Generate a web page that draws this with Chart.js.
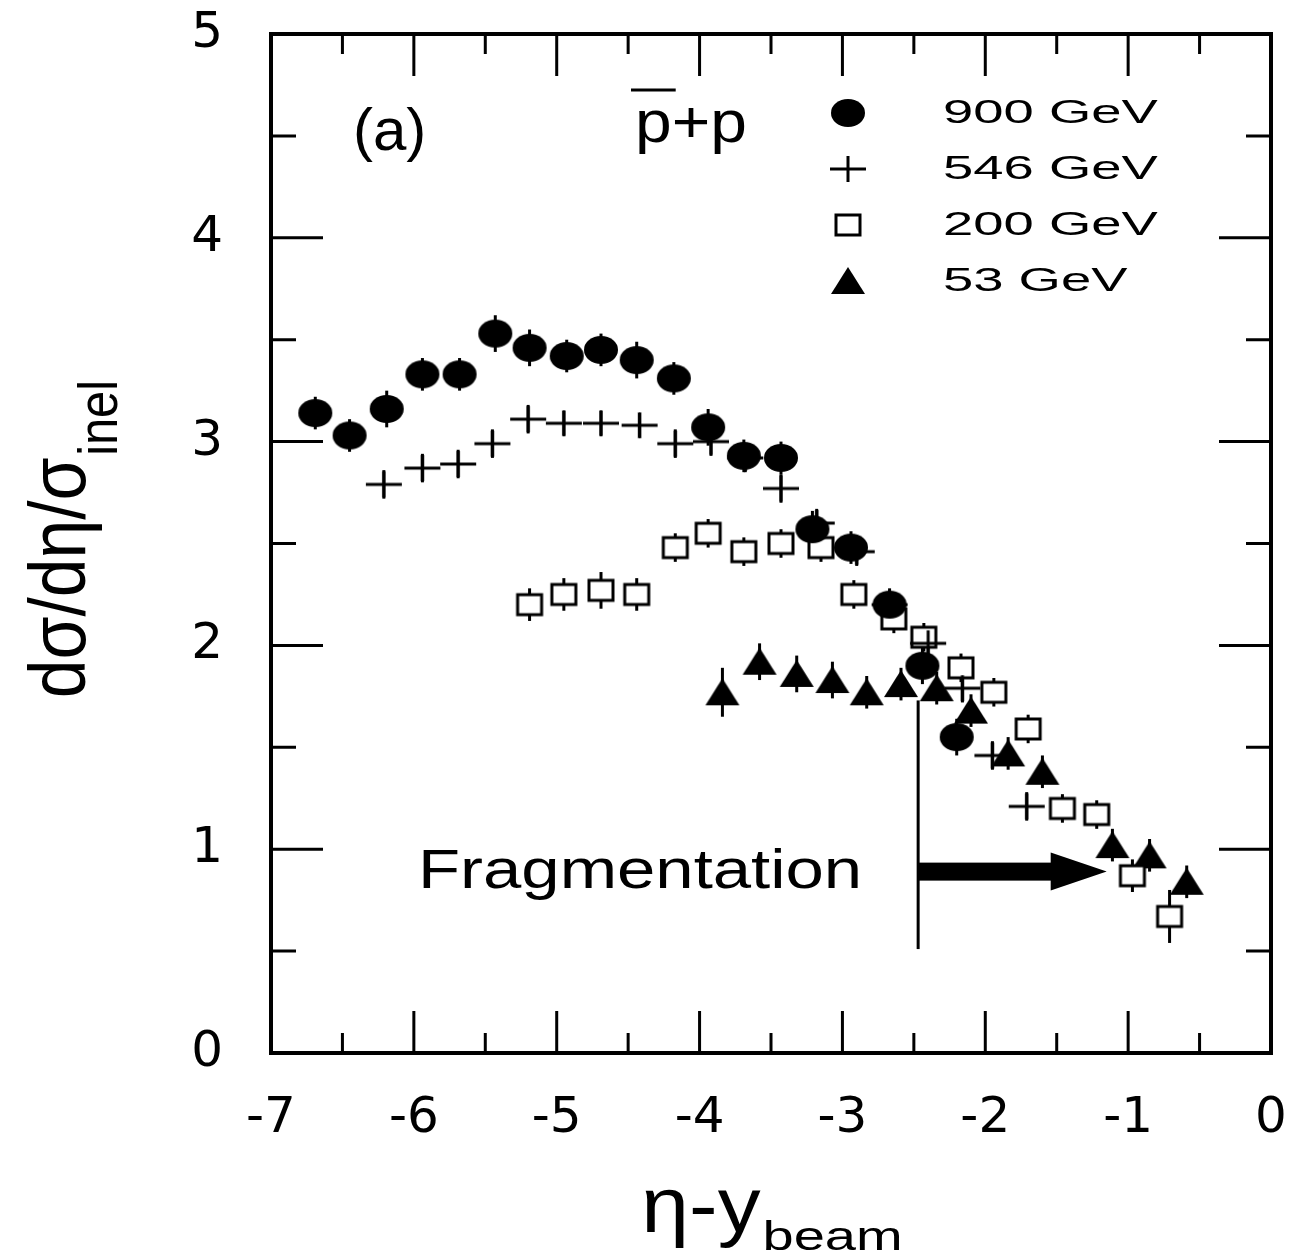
<!DOCTYPE html>
<html>
<head>
<meta charset="utf-8">
<script src="https://cdn.jsdelivr.net/npm/chart.js@4.4.1/dist/chart.umd.min.js"></script>
<style>body{margin:0;background:#fff}</style>
</head>
<body>
<canvas id="chart" width="1296" height="1256"></canvas>
<script>
// Series: eta - y_beam vs dsigma/deta/sigma_inel
const eta900 = [-6.69, -6.45, -6.19, -5.94, -5.68, -5.43, -5.19, -4.93, -4.69, -4.44, -4.18, -3.94, -3.69, -3.43, -3.21, -2.94, -2.67, -2.44, -2.20];
const val900 = [3.14, 3.03, 3.16, 3.33, 3.33, 3.53, 3.46, 3.42, 3.45, 3.40, 3.31, 3.07, 2.93, 2.92, 2.57, 2.48, 2.20, 1.90, 1.55];
const err900 = [0.08, 0.08, 0.09, 0.08, 0.08, 0.09, 0.09, 0.08, 0.08, 0.09, 0.08, 0.09, 0.08, 0.08, 0.09, 0.08, 0.08, 0.09, 0.09];

const eta546 = [-6.21, -5.94, -5.69, -5.45, -5.20, -4.95, -4.69, -4.42, -4.17, -3.92, -3.68, -3.43, -3.18, -2.90, -2.67, -2.40, -2.16, -1.95, -1.71];
const val546 = [2.79, 2.87, 2.89, 2.99, 3.11, 3.09, 3.09, 3.08, 2.99, 3.00, 2.92, 2.77, 2.60, 2.46, 2.20, 2.01, 1.79, 1.46, 1.21];
const err546 = [0.07, 0.07, 0.07, 0.07, 0.07, 0.06, 0.06, 0.06, 0.07, 0.07, 0.07, 0.07, 0.07, 0.07, 0.07, 0.07, 0.07, 0.07, 0.07];

const eta200 = [-5.19, -4.95, -4.69, -4.44, -4.17, -3.94, -3.69, -3.43, -3.15, -2.92, -2.64, -2.43, -2.17, -1.94, -1.70, -1.46, -1.22, -0.97, -0.71];
const val200 = [2.20, 2.25, 2.27, 2.25, 2.48, 2.55, 2.46, 2.50, 2.48, 2.25, 2.13, 2.04, 1.89, 1.77, 1.59, 1.20, 1.17, 0.87, 0.67];
const err200 = [0.08, 0.08, 0.09, 0.08, 0.07, 0.07, 0.07, 0.07, 0.07, 0.07, 0.07, 0.07, 0.07, 0.07, 0.07, 0.07, 0.07, 0.08, 0.13];

const eta53 = [-3.84, -3.58, -3.32, -3.07, -2.83, -2.59, -2.34, -2.10, -1.84, -1.60, -1.11, -0.85, -0.59];
const val53 = [1.77, 1.92, 1.86, 1.83, 1.77, 1.81, 1.79, 1.68, 1.47, 1.38, 1.02, 0.97, 0.84];
const err53 = [0.12, 0.09, 0.09, 0.09, 0.08, 0.08, 0.08, 0.08, 0.08, 0.08, 0.08, 0.08, 0.08];

const seriesLabels = ['900 GeV', '546 GeV', '200 GeV', '53 GeV'];
const xTickLabels = ['-7', '-6', '-5', '-4', '-3', '-2', '-1', '0'];
const yTickLabels = ['0', '1', '2', '3', '4', '5'];

// Fragmentation marker (data coordinates)
const fragX = -2.47;
const fragLine = [0.51, 1.73];
const fragArrowY = 0.89;
const fragArrowTip = -1.15;

const FONT = '"Liberation Sans", Arial, sans-serif';

// Marker glyphs, a bit wider than tall like the original.
function makeMarker(kind) {
  const c = document.createElement('canvas');
  c.width = 40; c.height = 34;
  const g = c.getContext('2d');
  g.translate(20, 17);
  g.fillStyle = '#000';
  g.strokeStyle = '#000';
  if (kind === 'circle') {
    g.beginPath(); g.ellipse(0, 0, 17, 14, 0, 0, Math.PI * 2); g.fill();
  } else if (kind === 'cross') {
    g.lineWidth = 3;
    g.beginPath(); g.moveTo(-18, 0); g.lineTo(18, 0); g.moveTo(0, -13); g.lineTo(0, 13); g.stroke();
  } else if (kind === 'square') {
    g.fillStyle = '#fff';
    g.fillRect(-12, -10, 24, 20);
    g.lineWidth = 3;
    g.strokeRect(-12, -10, 24, 20);
  } else if (kind === 'triangle') {
    g.beginPath(); g.moveTo(0, -14); g.lineTo(17, 13); g.lineTo(-17, 13); g.closePath(); g.fill();
  }
  return c;
}
const markers = [makeMarker('circle'), makeMarker('cross'), makeMarker('square'), makeMarker('triangle')];

const toPoints = (xs, ys) => xs.map((x, i) => ({x, y: ys[i]}));
const errs = [err900, err546, err200, err53];

const datasets = [
  {label: seriesLabels[0], data: toPoints(eta900, val900)},
  {label: seriesLabels[1], data: toPoints(eta546, val546)},
  {label: seriesLabels[2], data: toPoints(eta200, val200)},
  {label: seriesLabels[3], data: toPoints(eta53, val53)},
].map((d, i) => Object.assign(d, {pointStyle: markers[i], pointRadius: 17, showLine: false, errors: errs[i]}));

function stretchText(ctx, text, x, y, size, sx) {
  ctx.save();
  ctx.translate(x, y);
  ctx.scale(sx, 1);
  ctx.font = size + 'px ' + FONT;
  ctx.fillText(text, 0, 0);
  ctx.restore();
}

const errorBars = {
  id: 'errorBars',
  beforeDatasetsDraw(chart) {
    const {ctx, scales: {x, y}} = chart;
    ctx.save();
    ctx.strokeStyle = '#000';
    ctx.lineWidth = 3;
    chart.data.datasets.forEach(ds => {
      ds.data.forEach((p, i) => {
        const px = x.getPixelForValue(p.x);
        ctx.beginPath();
        ctx.moveTo(px, y.getPixelForValue(p.y - ds.errors[i]));
        ctx.lineTo(px, y.getPixelForValue(p.y + ds.errors[i]));
        ctx.stroke();
      });
    });
    ctx.restore();
  }
};

const frameAndDecor = {
  id: 'frameAndDecor',
  afterDraw(chart) {
    const {ctx, chartArea: a, scales: {x, y}} = chart;
    ctx.save();
    ctx.strokeStyle = '#000';
    ctx.fillStyle = '#000';

    // inward ticks on all four sides
    ctx.lineWidth = 3;
    ctx.beginPath();
    for (let v = -7; v <= 0; v += 0.5) {
      const px = x.getPixelForValue(v);
      const len = Number.isInteger(v) ? 42 : 20;
      ctx.moveTo(px, a.bottom); ctx.lineTo(px, a.bottom - len);
      ctx.moveTo(px, a.top); ctx.lineTo(px, a.top + len);
    }
    for (let v = 0; v <= 5; v += 0.5) {
      const py = y.getPixelForValue(v);
      const len = Number.isInteger(v) ? 52 : 25;
      ctx.moveTo(a.left, py); ctx.lineTo(a.left + len, py);
      ctx.moveTo(a.right, py); ctx.lineTo(a.right - len, py);
    }
    ctx.stroke();

    // frame
    ctx.lineWidth = 4;
    ctx.strokeRect(a.left, a.top, a.right - a.left, a.bottom - a.top);

    // fragmentation line + arrow
    const fx = x.getPixelForValue(fragX);
    ctx.lineWidth = 3;
    ctx.beginPath();
    ctx.moveTo(fx, y.getPixelForValue(fragLine[1]));
    ctx.lineTo(fx, y.getPixelForValue(fragLine[0]));
    ctx.stroke();
    const ay = y.getPixelForValue(fragArrowY);
    const tip = x.getPixelForValue(fragArrowTip);
    ctx.fillRect(fx, ay - 9, tip - 50 - fx, 18);
    ctx.beginPath();
    ctx.moveTo(tip, ay);
    ctx.lineTo(tip - 56, ay - 19);
    ctx.lineTo(tip - 56, ay + 19);
    ctx.closePath();
    ctx.fill();

    ctx.textBaseline = 'alphabetic';
    ctx.textAlign = 'left';
    ctx.font = '56px ' + FONT;
    const fw = ctx.measureText('Fragmentation').width * 1.23;
    stretchText(ctx, 'Fragmentation', fx - 56 - fw, ay + 16, 56, 1.23);

    // panel label and reaction
    stretchText(ctx, '(a)', a.left + 82, a.top + 116, 60, 1.0);
    const px0 = a.left + 364;
    stretchText(ctx, 'p+p', px0, a.top + 108, 60, 1.1);
    ctx.font = '60px ' + FONT;
    const pw = ctx.measureText('p').width * 1.1;
    ctx.lineWidth = 3;
    ctx.beginPath();
    ctx.moveTo(px0 - 4, a.top + 56);
    ctx.lineTo(px0 + pw + 4, a.top + 56);
    ctx.stroke();

    // legend
    ctx.textBaseline = 'middle';
    chart.data.datasets.forEach((ds, i) => {
      const ry = a.top + 79 + i * 56;
      const m = ds.pointStyle;
      ctx.drawImage(m, 848 - m.width / 2, ry - m.height / 2);
      stretchText(ctx, ds.label, 943, ry + 1, 34, 1.6);
    });

    // x axis title: eta - y_beam
    ctx.textBaseline = 'alphabetic';
    ctx.font = '78px ' + FONT;
    const mainW = ctx.measureText('\u03b7-y').width * 1.1;
    ctx.font = '40px ' + FONT;
    const subW = ctx.measureText('beam').width * 1.4;
    const x0 = (a.left + a.right) / 2 - (mainW + subW) / 2;
    stretchText(ctx, '\u03b7-y', x0, 1232, 78, 1.1);
    stretchText(ctx, 'beam', x0 + mainW + 2, 1250, 40, 1.4);

    // y axis title: dsigma/deta/sigma_inel
    ctx.save();
    ctx.translate(85, 540);
    ctx.rotate(-Math.PI / 2);
    ctx.scale(0.87, 1);
    ctx.font = '80px ' + FONT;
    const yMain = 'd\u03c3/d\u03b7/\u03c3';
    const yMainW = ctx.measureText(yMain).width;
    ctx.font = '56px ' + FONT;
    const ySubW = ctx.measureText('inel').width;
    const start = -(yMainW + ySubW) / 2;
    ctx.font = '80px ' + FONT;
    ctx.fillText(yMain, start, 0);
    ctx.font = '56px ' + FONT;
    ctx.fillText('inel', start + yMainW + 2, 32);
    ctx.restore();

    ctx.restore();
  }
};

const ctx = document.getElementById('chart').getContext('2d');
new Chart(ctx, {
  type: 'scatter',
  data: {datasets},
  options: {
    responsive: false,
    animation: false,
    layout: {padding: {left: 0, right: 25, top: 34, bottom: 0}},
    plugins: {legend: {display: false}, tooltip: {enabled: false}},
    scales: {
      x: {
        type: 'linear',
        min: -7,
        max: 0,
        grid: {display: false, drawTicks: false},
        border: {display: false},
        ticks: {
          stepSize: 1,
          padding: 36,
          color: '#000',
          font: {family: '"DejaVu Sans", Arial, sans-serif', size: 50},
          callback: (v) => xTickLabels[Math.round(v) + 7],
        },
        afterFit: (s) => { s.height = 203; s.paddingLeft = 0; s.paddingRight = 0; },
      },
      y: {
        type: 'linear',
        min: 0,
        max: 5,
        grid: {display: false, drawTicks: false},
        border: {display: false},
        ticks: {
          stepSize: 1,
          padding: 48,
          color: '#000',
          font: {family: '"DejaVu Sans", Arial, sans-serif', size: 50},
          callback: (v) => yTickLabels[Math.round(v)],
        },
        afterFit: (s) => { s.width = 271; s.paddingTop = 0; s.paddingBottom = 0; },
      },
    },
  },
  plugins: [errorBars, frameAndDecor],
});
</script>
</body>
</html>
